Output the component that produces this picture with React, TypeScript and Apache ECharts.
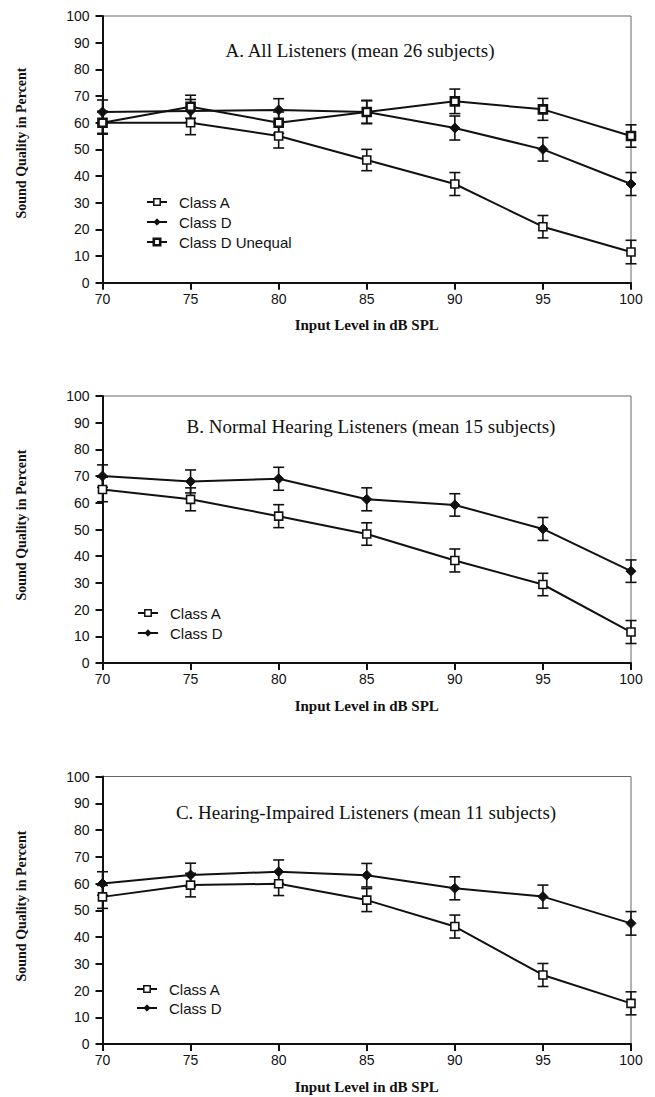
import React, { useEffect, useRef } from "react";
import * as echarts from "echarts";

const levels = [70, 75, 80, 85, 90, 95, 100];

const titleA = "A. All Listeners (mean 26 subjects)";
const titleB = "B. Normal Hearing Listeners (mean 15 subjects)";
const titleC = "C. Hearing-Impaired Listeners (mean 11 subjects)";
const yTitle = "Sound Quality in Percent";
const xTitle = "Input Level in dB SPL";

const aClassA = [60, 60, 55, 46, 37, 21, 11.5];
const aClassAErr = [4.3, 4.5, 4.5, 4, 4.3, 4.2, 4.4];
const aClassD = [64, 64.4, 64.8, 64, 58, 50, 37];
const aClassDErr = [4.5, 4.3, 4.2, 4.2, 4.5, 4.4, 4.3];
const aUnequal = [60, 66, 60, 64, 68, 65, 55];
const aUnequalErr = [4, 4.3, 4, 4.4, 4.6, 4.1, 4.2];

const bClassA = [65, 61.3, 55, 48.3, 38.4, 29.4, 11.6];
const bClassAErr = [4.6, 4.3, 4.3, 4.2, 4.3, 4.2, 4.3];
const bClassD = [70, 68, 69, 61.3, 59.2, 50.2, 34.4];
const bClassDErr = [4.2, 4.3, 4.3, 4.3, 4.2, 4.3, 4.2];

const cClassA = [55, 59.4, 59.9, 53.8, 43.9, 25.8, 15.2];
const cClassAErr = [4.3, 4.4, 4.4, 4.3, 4.3, 4.3, 4.3];
const cClassD = [60, 63.2, 64.4, 63.1, 58.2, 55.1, 45.1];
const cClassDErr = [4.4, 4.4, 4.4, 4.4, 4.3, 4.3, 4.4];

const SANS = '"Liberation Sans", Arial, sans-serif';
const SERIF = '"Liberation Serif", "Times New Roman", serif';

const gridTops = [16, 396, 776.5];
const gridHeights = [266.7, 267, 267.5];

export default function App() {
  const ref = useRef<HTMLDivElement>(null);

  useEffect(() => {
    if (!ref.current) return;
    const chart = echarts.init(ref.current, null, { renderer: "svg" });

    const grids = gridTops.map((t, i) => ({
      left: 102.5,
      top: t,
      width: 528.5,
      height: gridHeights[i],
      show: true,
      borderColor: "#666",
      borderWidth: 1,
      backgroundColor: "transparent",
      containLabel: false,
      outerBoundsMode: "none",
    }));

    const xAxes = gridTops.map((_, i) => ({
      type: "value",
      gridIndex: i,
      min: 70,
      max: 100,
      interval: 5,
      name: xTitle,
      nameLocation: "middle",
      nameGap: 35,
      nameTextStyle: { fontFamily: SERIF, fontWeight: "bold", fontSize: 15, color: "#111" },
      axisLine: { show: true, onZero: false, lineStyle: { color: "#111", width: 2 } },
      axisTick: { show: true, inside: false, length: 7, lineStyle: { color: "#111", width: 2 } },
      axisLabel: { fontFamily: SANS, fontSize: 14, color: "#111", margin: 9 },
      splitLine: { show: false },
    }));

    const yAxes = gridTops.map((_, i) => ({
      type: "value",
      gridIndex: i,
      min: 0,
      max: 100,
      interval: 10,
      axisLine: { show: true, lineStyle: { color: "#111", width: 2 } },
      axisTick: { show: true, inside: false, length: 7, lineStyle: { color: "#111", width: 2 } },
      axisLabel: { fontFamily: SANS, fontSize: 14, color: "#111", margin: 13 },
      splitLine: { show: false },
    }));

    const errRender = (params: any, api: any) => {
      const x = api.value(0);
      const lo = api.value(1);
      const hi = api.value(2);
      const p1 = api.coord([x, hi]);
      const p2 = api.coord([x, lo]);
      const w = 5.5;
      const st = { stroke: "#111", lineWidth: 1.6 };
      return {
        type: "group",
        children: [
          { type: "line", shape: { x1: p1[0], y1: p1[1], x2: p2[0], y2: p2[1] }, style: st },
          { type: "line", shape: { x1: p1[0] - w, y1: p1[1], x2: p1[0] + w, y2: p1[1] }, style: st },
          { type: "line", shape: { x1: p2[0] - w, y1: p2[1], x2: p2[0] + w, y2: p2[1] }, style: st },
        ],
      };
    };

    const styles: Record<string, any> = {
      "Class A": { symbol: "rect", symbolSize: 8, itemStyle: { color: "#fff", borderColor: "#111", borderWidth: 1.6 } },
      "Class D": { symbol: "diamond", symbolSize: 10, itemStyle: { color: "#111", borderColor: "#111", borderWidth: 1 } },
      "Class D Unequal": { symbol: "rect", symbolSize: 8, itemStyle: { color: "#fff", borderColor: "#111", borderWidth: 2.6 } },
    };

    const series: any[] = [];
    const addSeries = (gi: number, name: string, vals: number[], errs: number[]) => {
      series.push({
        type: "custom",
        name: name + " err " + gi,
        xAxisIndex: gi,
        yAxisIndex: gi,
        renderItem: errRender,
        encode: { x: 0, y: [1, 2] },
        data: levels.map((l, k) => [l, vals[k] - errs[k], vals[k] + errs[k]]),
        z: 2,
        silent: true,
      });
      series.push({
        type: "line",
        name,
        xAxisIndex: gi,
        yAxisIndex: gi,
        data: levels.map((l, k) => [l, vals[k]]),
        lineStyle: { color: "#111", width: 2 },
        showSymbol: true,
        z: 3,
        ...styles[name],
      });
    };

    addSeries(0, "Class A", aClassA, aClassAErr);
    addSeries(0, "Class D", aClassD, aClassDErr);
    addSeries(0, "Class D Unequal", aUnequal, aUnequalErr);
    addSeries(1, "Class A", bClassA, bClassAErr);
    addSeries(1, "Class D", bClassD, bClassDErr);
    addSeries(2, "Class A", cClassA, cClassAErr);
    addSeries(2, "Class D", cClassD, cClassDErr);

    const legendItems = {
      "Class A": { name: "Class A", itemStyle: { color: "#fff", borderColor: "#111", borderWidth: 1.5 } },
      "Class D": { name: "Class D", itemStyle: { color: "#111", borderColor: "#111", borderWidth: 1 } },
      "Class D Unequal": { name: "Class D Unequal", itemStyle: { color: "#fff", borderColor: "#111", borderWidth: 2.6 } },
    };

    const legendBase = {
      orient: "vertical",
      itemWidth: 20,
      itemHeight: 8,
      itemGap: 5,
      selectedMode: false,
      textStyle: { fontFamily: SANS, fontSize: 15, color: "#111", padding: [0, 0, 0, 7] },
    };

    const titleText = (text: string, x: number, y: number) => ({
      type: "text",
      x,
      y,
      silent: true,
      style: {
        text,
        fontFamily: SERIF,
        fontSize: 19,
        fill: "#111",
        align: "center",
        verticalAlign: "middle",
      },
    });

    const yTitleText = (y: number) => ({
      type: "text",
      x: 21,
      y,
      rotation: Math.PI / 2,
      silent: true,
      style: {
        text: yTitle,
        fontFamily: SERIF,
        fontWeight: "bold",
        fontSize: 14,
        fill: "#111",
        align: "center",
        verticalAlign: "middle",
      },
    });

    chart.setOption({
      animation: false,
      backgroundColor: "#fff",
      grid: grids,
      xAxis: xAxes,
      yAxis: yAxes,
      legend: [
        {
          ...legendBase,
          left: 141,
          top: 189.5,
          data: [legendItems["Class A"], legendItems["Class D"], legendItems["Class D Unequal"]],
        },
        { ...legendBase, left: 132, top: 600.5, data: [legendItems["Class A"], legendItems["Class D"]] },
        { ...legendBase, left: 131, top: 976.5, itemGap: 4, data: [legendItems["Class A"], legendItems["Class D"]] },
      ],
      graphic: [
        titleText(titleA, 360, 50),
        titleText(titleB, 371, 426),
        titleText(titleC, 366, 812),
        yTitleText(143),
        yTitleText(525),
        yTitleText(906),
      ],
      series,
    });

    return () => chart.dispose();
  }, []);

  return (
    <div
      ref={ref}
      style={{ position: "fixed", left: 0, top: 0, width: 655, height: 1097, background: "#fff" }}
    />
  );
}
